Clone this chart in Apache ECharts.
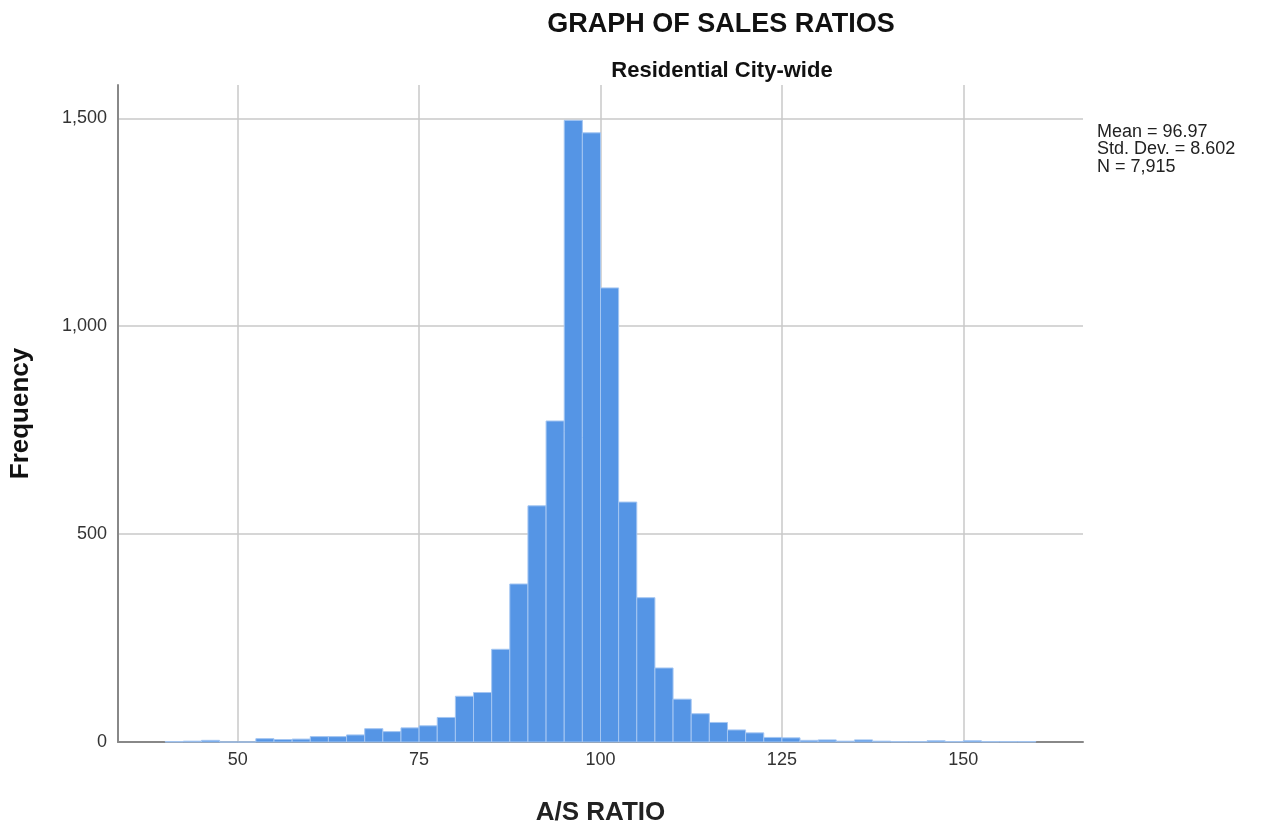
<!DOCTYPE html>
<html>
<head>
<meta charset="utf-8">
<script src="https://cdn.jsdelivr.net/npm/echarts@6/dist/echarts.min.js"></script>
<style>
html,body{margin:0;padding:0;background:#fff;}
#chart{width:1262px;height:831px;}
</style>
</head>
<body>
<div id="chart"></div>
<script>
// Histogram data (bin width 2.5)
const binStarts = [40, 42.5, 45, 47.5, 50, 52.5, 55, 57.5, 60, 62.5, 65, 67.5, 70, 72.5, 75, 77.5,
  80, 82.5, 85, 87.5, 90, 92.5, 95, 97.5, 100, 102.5, 105, 107.5, 110, 112.5, 115, 117.5,
  120, 122.5, 125, 127.5, 130, 132.5, 135, 137.5, 140, 142.5, 145, 147.5, 150, 152.5, 155, 157.5];
const counts = [1, 2, 4, 0, 0, 8, 6, 7, 13, 13, 17, 32, 25, 34, 39, 59,
  110, 119, 223, 380, 568, 772, 1495, 1465, 1092, 577, 347, 178, 103, 68, 47, 29,
  22, 11, 10, 4, 5, 2, 5, 2, 1, 1, 3, 1, 3, 1, 1, 1];
const binWidth = 2.5;
const xTicks = [50, 75, 100, 125, 150];
const yTicks = [0, 500, 1000, 1500];
const statLines = ['Mean = 96.97', 'Std. Dev. = 8.602', 'N = 7,915'];

const data = binStarts.map((s, i) => [s, s + binWidth, counts[i]]);

const chart = echarts.init(document.getElementById('chart'), null, {renderer: 'canvas'});
const font = '"Liberation Sans", Arial, sans-serif';

chart.setOption({
  backgroundColor: '#fff',
  animation: false,
  title: [
    {text: 'GRAPH OF SALES RATIOS', left: 716, top: 6, textAlign: 'center',
     textStyle: {fontFamily: font, fontSize: 27, fontWeight: 'bold', color: '#111'}},
    {text: 'Residential City-wide', left: 717, top: 55, textAlign: 'center',
     textStyle: {fontFamily: font, fontSize: 22, fontWeight: 'bold', color: '#111'}}
  ],
  grid: {left: 118, right: 179, top: 85, bottom: 89, containLabel: false},
  xAxis: {
    type: 'value', min: 33.5, max: 166.5,
    name: 'A/S RATIO', nameLocation: 'middle', nameGap: 58,
    nameTextStyle: {fontFamily: font, fontSize: 26, fontWeight: 'bold', color: '#222'},
    axisLine: {show: true, lineStyle: {color: '#888', width: 2}},
    axisTick: {show: false, customValues: xTicks},
    axisLabel: {customValues: xTicks, fontFamily: font, fontSize: 18, color: '#333', margin: 9},
    splitLine: {show: true, lineStyle: {color: '#c8c8c8', width: 1.5}}
  },
  yAxis: {
    type: 'value', min: 0, max: 1580,
    name: 'Frequency', nameLocation: 'middle', nameGap: 84,
    nameTextStyle: {fontFamily: font, fontSize: 26, fontWeight: 'bold', color: '#111'},
    axisLine: {show: true, lineStyle: {color: '#888', width: 2}},
    axisTick: {show: false, customValues: yTicks},
    axisLabel: {customValues: yTicks, fontFamily: font, fontSize: 18, color: '#333', margin: 11,
      formatter: v => v.toLocaleString('en-US')},
    splitLine: {show: true, lineStyle: {color: '#c8c8c8', width: 1.5}}
  },
  series: [{
    type: 'custom',
    encode: {x: [0, 1], y: 2},
    data: data,
    renderItem: function (params, api) {
      const p0 = api.coord([api.value(0), api.value(2)]);
      const p1 = api.coord([api.value(1), 0]);
      return {
        type: 'rect',
        shape: {x: p0[0], y: p0[1], width: p1[0] - p0[0], height: p1[1] - p0[1]},
        style: {fill: '#5595e5', stroke: '#a4c6f2', lineWidth: 1}
      };
    }
  }],
  graphic: statLines.map((t, i) => ({
    type: 'text', left: 1097, top: 123 + i * 17.5,
    style: {text: t, font: '18px ' + font, fill: '#222'}
  }))
});
</script>
</body>
</html>
